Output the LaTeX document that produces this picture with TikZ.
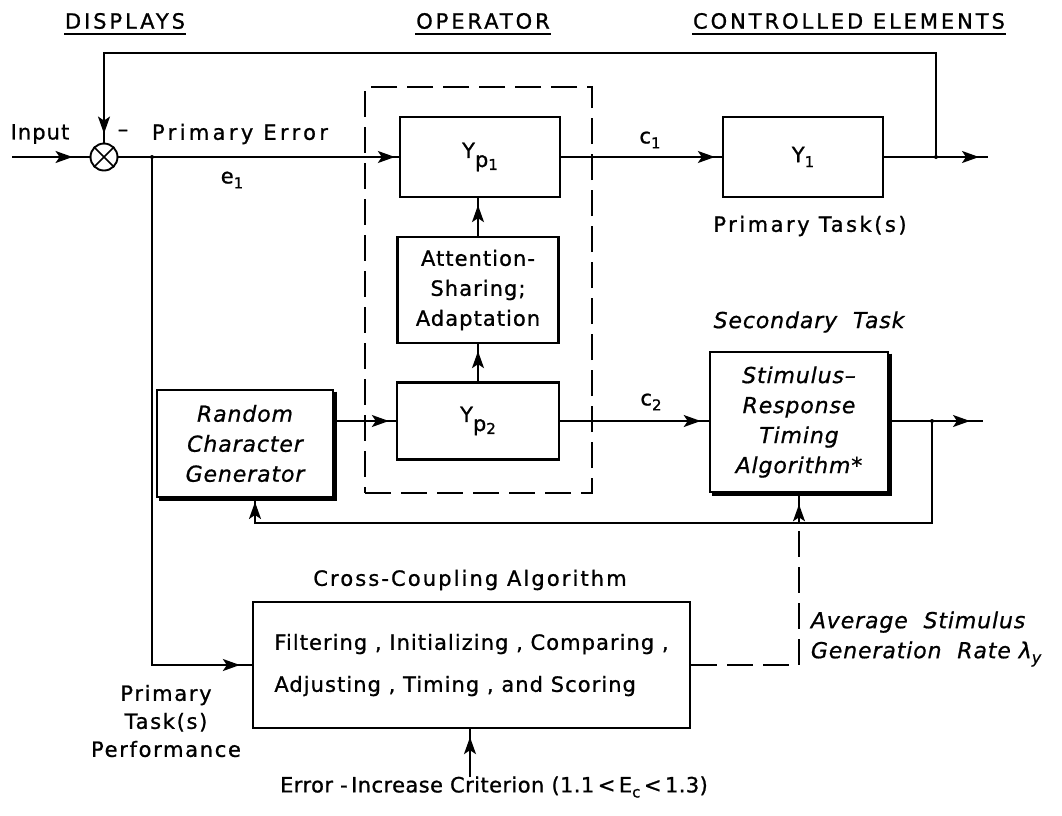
\documentclass[tikz,border=0pt]{standalone}
\usepackage{fontspec}
\newfontfamily\lett[LetterSpace=5,FakeBold=1]{DejaVu Sans}
\newfontfamily\lettw[LetterSpace=14,FakeBold=1]{DejaVu Sans}
\newfontfamily\itl[LetterSpace=4,FakeBold=0.8]{DejaVu Sans}
\usetikzlibrary{arrows.meta}
% lowered index in the lettering face
\newcommand{\sub}[1]{\raisebox{-5pt}{\fontsize{15}{15}\selectfont #1}}
\newcommand{\Yp}[1]{Y\raisebox{-9pt}{p\raisebox{-3pt}{\fontsize{15}{15}\selectfont #1}}}
\begin{document}
\begin{tikzpicture}[x=1pt,y=-1pt,line width=1.8pt,
  txt/.style={inner sep=0pt,font=\lett\fontsize{21}{25}\selectfont},
  wtxt/.style={inner sep=0pt,font=\lettw\fontsize{21}{25}\selectfont},
  itxt/.style={inner sep=0pt,font=\itl\itshape\fontsize{22}{30}\selectfont},
  box/.style={draw,line width=2.3pt,inner sep=0pt,align=center,
    font=\lett\fontsize{21}{30}\selectfont},
  heavybox/.style={box,line width=2.6pt,font=\itl\itshape\fontsize{22}{30}\selectfont},
  % line drawn to its end, arrow head set back from the end by #1
  arr at/.style={postaction={draw,-{Stealth[length=17pt,width=12pt,inset=4pt]},shorten >=#1}},
  dsh/.style={dash pattern=on 26pt off 10pt,line width=2.2pt},
  jdot/.style={circle,fill,inner sep=0pt,minimum size=4pt}]
\useasboundingbox (0,0) rectangle (1062,815);

% column headings
\node[wtxt] (hdisp) at (125,21) {DISPLAYS};
\node[wtxt] (hop) at (483,21) {OPERATOR};
\node[wtxt] (hce) at (849,21) {CONTROLLED ELEMENTS};
\foreach \h in {hdisp,hop,hce}
  \draw[line width=1.8pt] ([yshift=-5pt]\h.base west) -- ([yshift=-5pt]\h.base east);

% summing junction
\node[draw,circle,minimum size=27pt,inner sep=0pt,line width=1.9pt] (sum) at (104,157) {};
\draw[line width=1.6pt] (sum.north west) -- (sum.south east)
                        (sum.north east) -- (sum.south west);
\node[txt] (inlab) at (40,134) {Input};
\node[txt] (minus) at (123,133) {–};
\node[txt,font=\lett\addfontfeature{LetterSpace=16}\fontsize{21}{25}\selectfont] (perr) at (240,134) {Primary Error};
\node[txt] (e1) at (232,180) {e\sub{1}};

% operator
\node[draw,dsh,minimum width=227pt,minimum height=406pt] (op) at (478.5,290) {};
\node[box,minimum width=160pt,minimum height=80pt] (yp1) at (480,157) {\Yp{1}};
\node[box,minimum width=161pt,minimum height=106pt] (att) at (478,290)
  {Attention-\\Sharing;\\Adaptation};
\node[box,minimum width=162pt,minimum height=77pt] (yp2) at (478,421) {\Yp{2}};

% controlled elements
\node[box,minimum width=160pt,minimum height=80pt] (y1) at (803,157) {Y\sub{1}};
\node[txt] (c1) at (650,140) {c\sub{1}};
\node[txt,font=\lett\addfontfeature{LetterSpace=12}\fontsize{21}{25}\selectfont] (ptask) at (810,226) {Primary Task(s)};
\node[itxt] (sec) at (809,322) {Secondary\ \ Task};
\node[heavybox,minimum width=178pt,minimum height=140pt] (srta) at (799,422)
  {Stimulus–\\Response\\Timing\\Algorithm*};
\node[txt] (c2) at (651,402) {c\sub{2}};

% random character generator
\node[heavybox,minimum width=176pt,minimum height=107pt] (rcg) at (245,443.5)
  {Random\\Character\\Generator};
\foreach \b in {rcg,srta}
  \draw[line width=2.6pt] ([shift={(1.3pt,-3pt)}]\b.north east) -- ([shift={(1.3pt,-1.3pt)}]\b.south east)
    -- ([shift={(3pt,-1.3pt)}]\b.south west);

% cross-coupling algorithm
\node[txt,font=\lett\addfontfeature{LetterSpace=10}\fontsize{21}{25}\selectfont] (ccl) at (470,580) {Cross-Coupling Algorithm};
\node[box,minimum width=437pt,minimum height=126pt,align=left,
  font=\lett\fontsize{21}{42}\selectfont] (cc) at (471.5,665)
  {Filtering , Initializing , Comparing ,\\Adjusting , Timing , and Scoring};
\node[txt,align=center,font=\lett\addfontfeature{LetterSpace=8}\fontsize{21}{28}\selectfont] (ptp) at (166,721)
  {Primary\\Task(s)\\Performance};
\node[txt,font=\lett\addfontfeature{LetterSpace=2}\fontsize{21}{25}\selectfont] (eic) at (494,787)
  {Error -\,Increase Criterion (1.1\,<\,E\sub{c}\,<\,1.3)};
\node[itxt,align=left,anchor=west] (avg) at (810,639)
  {Average\ \ Stimulus\\Generation\ \ Rate λ\raisebox{-5pt}{\fontsize{16}{16}\selectfont y}};

% junctions and free ends
\coordinate (inp) at (12,157);
\coordinate (fb1) at (936,157);
\coordinate (fbtop) at (936,53);
\coordinate (out1) at (988,157);
\coordinate (br) at (152,157);
\coordinate (j2) at (932,421);
\coordinate (fbl) at (932,523);
\coordinate (out2) at (983,421);
\coordinate (rcgin) at (255,497);
\coordinate (jn) at (799,523);
\coordinate (eicarr) at (470,777);

% primary loop
\draw[arr at=17pt] (inp) -- (sum.west);
\draw[arr at=9pt] (fb1) -- (fbtop) -| (sum.north);
\draw[arr at=4pt] (sum.east) -- (yp1.west);
\draw[arr at=7pt] (yp1.east) -- (y1.west);
\draw[arr at=9pt] (y1.east) -- (out1);
\node[jdot] at (fb1) {};
\draw[arr at=12pt] (br) |- (cc.west);
\node[jdot] at (br) {};

% inside the operator
\draw[arr at=7pt] (att.north) -- (att.north |- yp1.south);
\draw[arr at=7pt] (att.south |- yp2.north) -- (att.south);

% secondary loop
\draw[arr at=7pt] (rcg.east |- yp2.west) -- (yp2.west);
\draw[arr at=8pt] (yp2.east) -- (srta.west |- yp2.east);
\draw[arr at=13pt] (srta.east |- yp2.east) -- (out2);
\draw[arr at=5pt] (j2) -- (fbl) -| (rcgin);
\node[jdot] at (j2) {};

% stimulus rate command
\draw[dsh] (cc.east) -| (jn);
\draw[arr at=11pt] (jn) -- (srta.south);
\draw[arr at=8pt] (eicarr) -- (eicarr |- cc.south);
\end{tikzpicture}
\end{document}
